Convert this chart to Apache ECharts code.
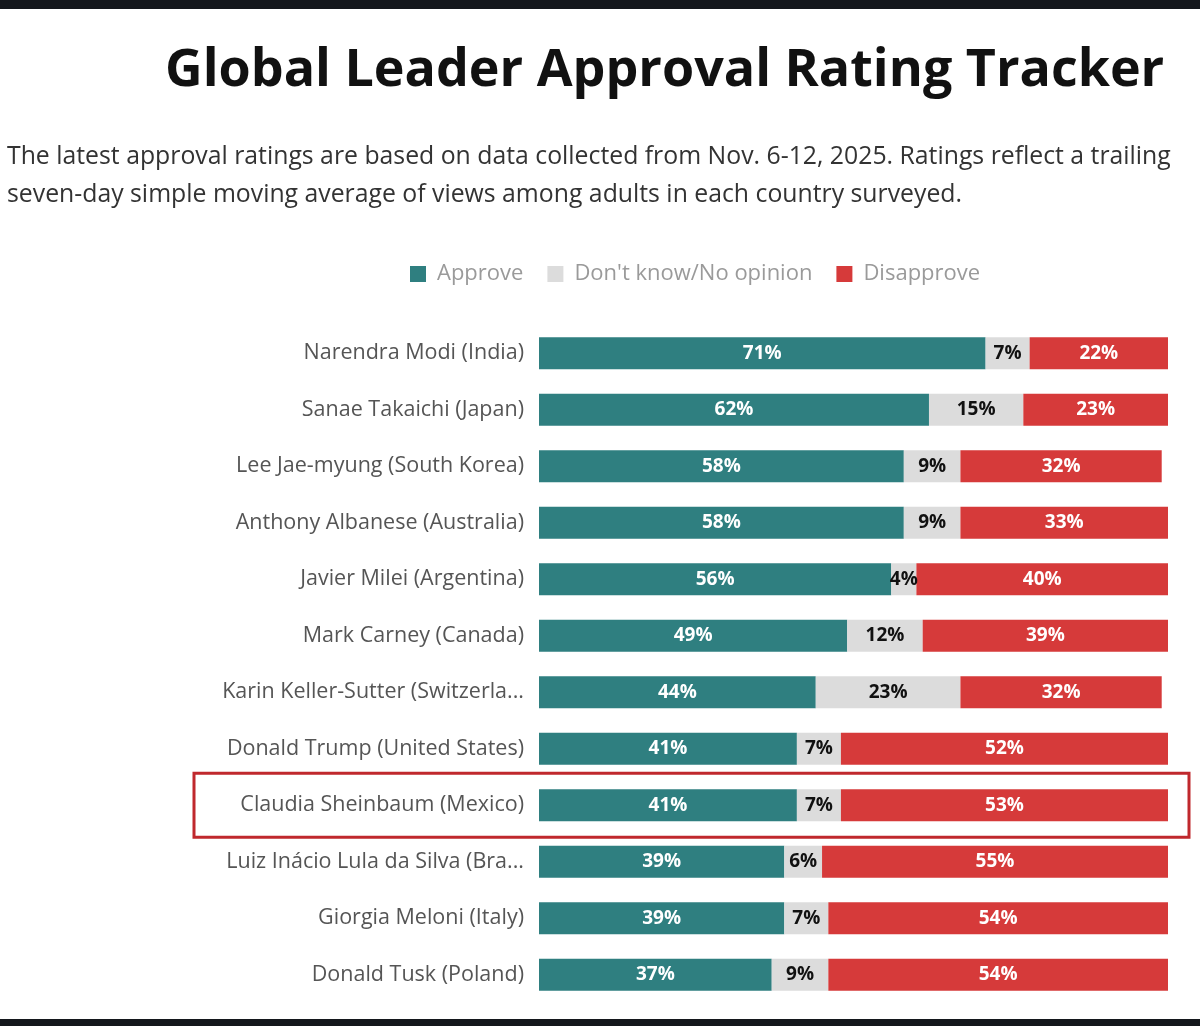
<!DOCTYPE html>
<html>
<head>
<meta charset="utf-8">
<script src="https://cdn.jsdelivr.net/npm/echarts@6/dist/echarts.min.js"></script>
<style>
  html, body { margin: 0; padding: 0; background: #fff; }
  #bandTop { position: absolute; left: 0; top: 0; width: 1200px; height: 9px; background: #14171c; }
  #bandBottom { position: absolute; left: 0; top: 1019px; width: 1200px; height: 7px; background: #14171c; }
  #chart { position: absolute; left: 0; top: 0; width: 1200px; height: 1026px; }
</style>
</head>
<body>
<div id="chart"></div>
<div id="bandTop"></div>
<div id="bandBottom"></div>
<script>
// leaders, top to bottom
const leaders = [
    'Narendra Modi (India)',
    'Sanae Takaichi (Japan)',
    'Lee Jae-myung (South Korea)',
    'Anthony Albanese (Australia)',
    'Javier Milei (Argentina)',
    'Mark Carney (Canada)',
    'Karin Keller-Sutter (Switzerla...',
    'Donald Trump (United States)',
    'Claudia Sheinbaum (Mexico)',
    'Luiz Inácio Lula da Silva (Bra...',
    'Giorgia Meloni (Italy)',
    'Donald Tusk (Poland)'
];
const approve    = [71, 62, 58, 58, 56, 49, 44, 41, 41, 39, 39, 37];
const dontKnow   = [7, 15, 9, 9, 4, 12, 23, 7, 7, 6, 7, 9];
const disapprove = [22, 23, 32, 33, 40, 39, 32, 52, 53, 55, 54, 54];
const highlighted = 'Claudia Sheinbaum (Mexico)';

const font = '"Open Sans", Lato, sans-serif';
var chartDom = document.getElementById('chart');
var myChart = echarts.init(chartDom);

function segment(name, data, color, labelColor) {
    return {
        name: name,
        type: 'bar',
        stack: 'total',
        barWidth: 32,
        data: data,
        itemStyle: { color: color },
        label: {
            show: true,
            position: 'inside',
            formatter: '{c}%',
            color: labelColor,
            fontFamily: font,
            fontWeight: 'bold',
            fontSize: 19
        },
        emphasis: { disabled: true }
    };
}

var option = {
    animation: false,
    title: [
        {
            text: 'Global Leader Approval Rating Tracker',
            left: 160,
            top: 40,
            textStyle: { fontFamily: font, fontWeight: 'bold', fontSize: 52, color: '#111' }
        },
        {
            text: 'The latest approval ratings are based on data collected from Nov. 6-12, 2025. Ratings reflect a trailing\nseven-day simple moving average of views among adults in each country surveyed.',
            left: 2,
            top: 133,
            textStyle: { fontFamily: font, fontWeight: 'normal', fontSize: 24.8, color: '#333', lineHeight: 38 }
        }
    ],
    legend: {
        top: 258,
        left: 405,
        icon: 'rect',
        itemWidth: 16,
        itemHeight: 16,
        itemGap: 24,
        textStyle: { fontFamily: font, fontSize: 22, color: '#9a9a9a', padding: [0, 0, 0, 6] },
        selectedMode: false
    },
    grid: { left: 539, right: 32, top: 325, bottom: 23 },
    xAxis: { type: 'value', min: 0, max: 100, show: false },
    yAxis: {
        type: 'category',
        data: leaders,
        inverse: true,
        axisLine: { show: false },
        axisTick: { show: false },
        axisLabel: { margin: 15, fontFamily: font, fontSize: 21.5, color: '#555' }
    },
    series: [
        segment('Approve', approve, '#2f7f80', '#ffffff'),
        segment("Don't know/No opinion", dontKnow, '#dcdcdc', '#111111'),
        segment('Disapprove', disapprove, '#d63a3a', '#ffffff')
    ]
};

myChart.setOption(option);

// red box around the highlighted row
var cy = myChart.convertToPixel({ yAxisIndex: 0 }, highlighted);
myChart.setOption({
    graphic: [{
        type: 'rect',
        shape: { x: 194, y: cy - 32, width: 995, height: 64 },
        style: { fill: 'none', stroke: '#c0282d', lineWidth: 3 },
        silent: true
    }]
});
</script>
</body>
</html>
